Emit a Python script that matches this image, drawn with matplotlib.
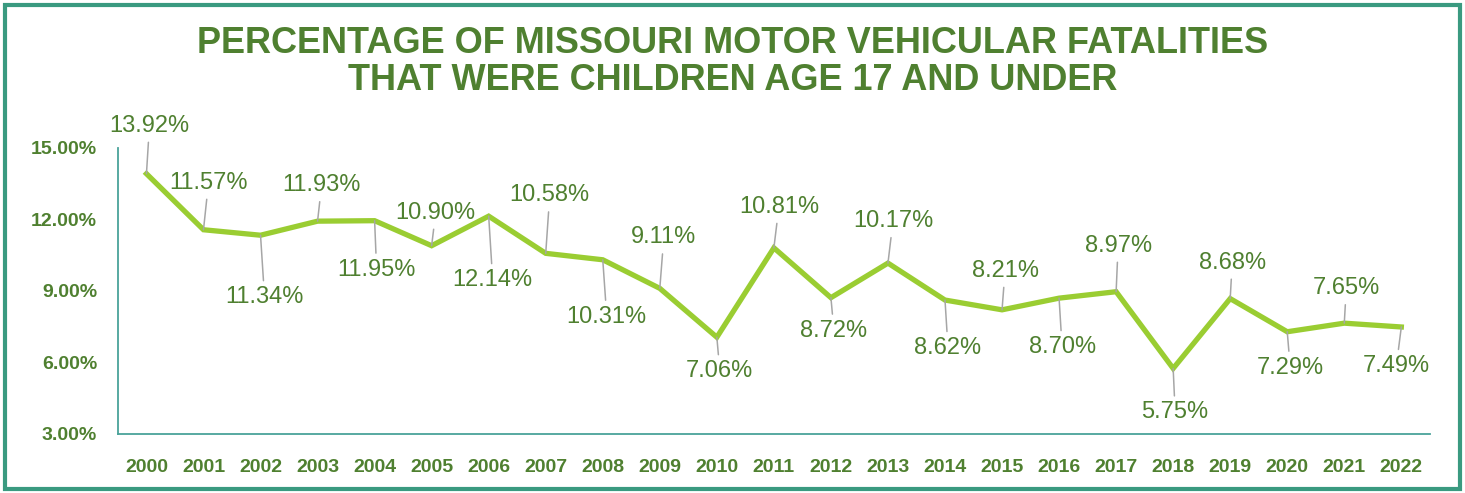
import matplotlib.pyplot as plt
from matplotlib.patches import Rectangle

# Data
years = ['2000', '2001', '2002', '2003', '2004', '2005', '2006', '2007', '2008',
         '2009', '2010', '2011', '2012', '2013', '2014', '2015', '2016', '2017',
         '2018', '2019', '2020', '2021', '2022']
pct = [13.92, 11.57, 11.34, 11.93, 11.95, 10.90, 12.14, 10.58, 10.31,
       9.11, 7.06, 10.81, 8.72, 10.17, 8.62, 8.21, 8.70, 8.97,
       5.75, 8.68, 7.29, 7.65, 7.49]
yticks = [3, 6, 9, 12, 15]

# label offsets (pixels) from each point, as placed in the original
label_dx = [3, 5, 4, 4, 2, 4, 4, 4, 4, 4, 3, 5, 3, 5, 3, 3, 3, 2, 2, 2, 3, 2, -5]
label_dy = [48, 47, -62, 36, -49, 33, -64, 58, -57, 51, -34, 41, -33, 42, -48, 39, -49, 46, -44, 36, -36, 35, -39]

green = '#4f8030'
line_green = '#9acd32'
teal = '#3a9a80'

plt.rcParams['font.family'] = ['Liberation Sans', 'DejaVu Sans']

fig = plt.figure(figsize=(14.65, 4.93), dpi=100)
ax = fig.add_axes([0.0805, 0.1197, 0.8955, 0.5801])

x = list(range(len(years)))
ax.plot(x, pct, color=line_green, lw=3.8, solid_joinstyle='miter', zorder=3)

for i, v in enumerate(pct):
    ax.annotate(f'{v:.2f}%', xy=(i, v), xytext=(label_dx[i], label_dy[i]),
                textcoords='offset pixels', ha='center', va='center',
                fontsize=17, color=green,
                arrowprops=dict(arrowstyle='-', color='#a6a6a6', lw=1.1,
                                shrinkA=2, shrinkB=0))

ax.set_xlim(-0.5, len(years) - 0.5)
ax.set_ylim(3, 15)
ax.set_xticks(x)
ax.set_xticklabels(years, fontsize=14, fontweight='bold', color=green)
ax.set_yticks(yticks)
ax.set_yticklabels([f'{t:.2f}%' for t in yticks], fontsize=14,
                   fontweight='bold', color=green)
ax.tick_params(axis='both', length=0)
ax.tick_params(axis='y', pad=15)
ax.tick_params(axis='x', pad=18)

for s in ['top', 'right']:
    ax.spines[s].set_visible(False)
for s in ['left', 'bottom']:
    ax.spines[s].set_color('#4aa39a')
    ax.spines[s].set_linewidth(1.3)

fig.text(0.5, 0.874, 'PERCENTAGE OF MISSOURI MOTOR VEHICULAR FATALITIES\nTHAT WERE CHILDREN AGE 17 AND UNDER',
         ha='center', va='center', fontsize=26, fontweight='bold', color=green,
         linespacing=1.1)

fig.patches.append(Rectangle((0.0035, 0.009), 0.993, 0.981, transform=fig.transFigure,
                             fill=False, edgecolor=teal, lw=3))

fig.savefig('out.png', dpi=100)
